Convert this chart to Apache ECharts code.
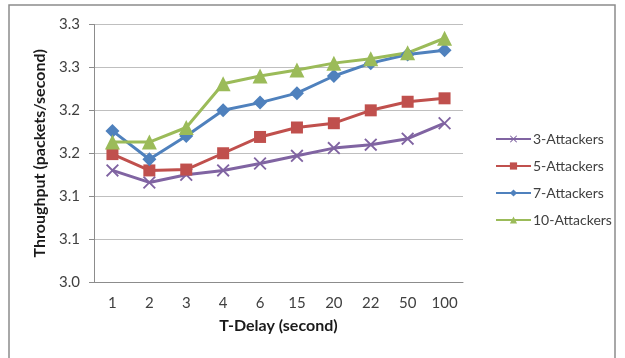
<!DOCTYPE html>
<html>
<head>
<meta charset="utf-8">
<script src="https://cdn.jsdelivr.net/npm/echarts@6/dist/echarts.min.js"></script>
<style>html,body{margin:0;padding:0;background:#fff}#c{width:625px;height:358px}</style>
</head>
<body>
<div id="c"></div>
<script>
var categories = ['1','2','3','4','6','15','20','22','50','100'];
var yTickLabels = ['3.0','3.1','3.1','3.2','3.2','3.3','3.3'];
var attackers3 = [3.130, 3.116, 3.125, 3.130, 3.138, 3.147, 3.156, 3.160, 3.167, 3.185];
var attackers5 = [3.149, 3.130, 3.131, 3.150, 3.169, 3.180, 3.185, 3.200, 3.210, 3.214];
var attackers7 = [3.176, 3.143, 3.170, 3.200, 3.209, 3.220, 3.240, 3.255, 3.265, 3.270];
var attackers10 = [3.163, 3.163, 3.180, 3.231, 3.240, 3.247, 3.255, 3.260, 3.267, 3.284];

var FONT = 'Lato';
var crossPath = 'path://M0,1 L1,0 L5,4 L9,0 L10,1 L6,5 L10,9 L9,10 L5,6 L1,10 L0,9 L4,5 Z';

var chart = echarts.init(document.getElementById('c'), null, {renderer: 'canvas'});
function mk(name, data, color, symbol, size) {
  return {
    name: name, type: 'line', data: data,
    symbol: symbol, symbolSize: size, showSymbol: true,
    lineStyle: {color: color, width: 3},
    itemStyle: {color: color},
    animation: false
  };
}
chart.setOption({
  animation: false,
  textStyle: {fontFamily: FONT},
  graphic: [{
    type: 'rect', shape: {x: 9, y: 5, width: 606, height: 360},
    style: {fill: 'none', stroke: '#8c8c8c', lineWidth: 1.5}, z: -1
  }],
  grid: {left: 94, right: 162, top: 24.5, bottom: 76, containLabel: false},
  xAxis: {
    type: 'category', data: categories, boundaryGap: true,
    axisLine: {lineStyle: {color: '#8c8c8c', width: 1}},
    axisTick: {show: false},
    axisLabel: {color: '#404040', fontSize: 15, margin: 14, fontFamily: FONT},
    name: 'T-Delay (second)', nameLocation: 'middle', nameGap: 36,
    nameTextStyle: {color: '#1a1a1a', fontSize: 16, fontWeight: 'bold', fontFamily: FONT}
  },
  yAxis: {
    type: 'value', min: 3.0, max: 3.3, interval: 0.05,
    axisLine: {show: true, lineStyle: {color: '#8c8c8c', width: 1}},
    axisTick: {show: true, length: 5, lineStyle: {color: '#8c8c8c'}},
    splitLine: {lineStyle: {color: '#bfbfbf', width: 1}},
    axisLabel: {color: '#404040', fontSize: 15, margin: 14, fontFamily: FONT,
      formatter: function (v, i) { return yTickLabels[i]; }},
    name: 'Throughput (packets/second)', nameLocation: 'middle', nameGap: 44,
    nameTextStyle: {color: '#1a1a1a', fontSize: 16, fontWeight: 'bold', fontFamily: FONT}
  },
  legend: {
    orient: 'vertical', left: 495, top: 132, padding: 0, itemWidth: 35, itemHeight: 9, itemGap: 13,
    textStyle: {color: '#404040', fontSize: 14, fontFamily: FONT, padding: [0, 0, 0, -3]},
    data: ['3-Attackers', '5-Attackers', '7-Attackers', '10-Attackers']
  },
  series: [
    mk('3-Attackers', attackers3, '#8064A2', crossPath, 13),
    mk('5-Attackers', attackers5, '#C0504D', 'rect', 12),
    mk('7-Attackers', attackers7, '#4F81BD', 'diamond', 14),
    mk('10-Attackers', attackers10, '#9BBB59', 'triangle', 15)
  ]
});
</script>
</body>
</html>
